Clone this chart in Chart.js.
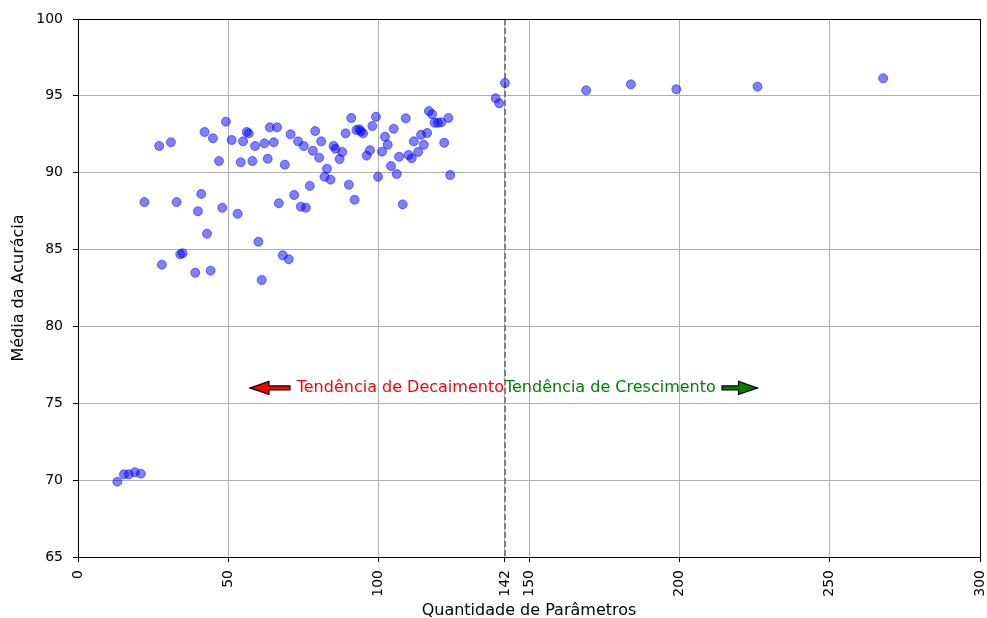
<!DOCTYPE html>
<html>
<head>
<meta charset="utf-8">
<script src="https://cdn.jsdelivr.net/npm/chart.js@4.4.1/dist/chart.umd.min.js"></script>
<style>
  body { margin: 0; background: #fff; }
  #wrap { width: 987px; height: 618px; }
</style>
</head>
<body>
<div id="wrap"><canvas id="paramChart" width="987" height="618"></canvas></div>
<script>
// Data: number of parameters vs mean accuracy
const paramCounts = [
  13.1, 15.3, 16.9, 18.9, 20.9,
  22.1, 27.9, 27.0, 30.9, 32.8, 34.0, 34.8, 39.0, 39.9, 41.0, 42.1, 42.9, 44.1, 44.9,
  46.9, 48.0, 49.2, 51.1, 53.1, 54.1, 54.9, 56.1, 56.8, 58.0, 58.9, 60.0, 61.1, 62.0,
  63.1, 63.8, 65.1, 66.2, 66.8, 68.1, 68.8, 70.1, 70.7, 71.9, 73.2, 74.1, 75.1, 75.8,
  77.1, 78.1, 78.9, 80.2, 80.9, 82.0, 82.8, 84.0, 85.0, 85.6, 87.0, 87.9, 89.0, 90.1,
  90.9, 92.0, 92.6, 93.6, 94.1, 94.8, 96.0, 97.1, 97.9, 99.1, 99.8, 101.1, 102.1, 103.0,
  104.1, 105.0, 106.0, 106.8, 108.0, 109.0, 109.9, 111.0, 111.7, 113.1, 114.1, 115.0,
  116.1, 116.7, 117.8, 118.6, 119.7, 120.8, 121.8, 123.2, 123.8,
  138.9, 140.1, 142.0, 169.0, 183.9, 199.0, 226.0, 267.8
];
const accuracies = [
  69.90, 70.38, 70.38, 70.51, 70.42,
  88.09, 84.02, 91.74, 91.98, 88.09, 84.69, 84.76, 83.49, 87.49, 88.62, 92.65, 86.03, 83.63, 92.24,
  90.76, 87.72, 93.32, 92.13, 87.33, 90.68, 92.04, 92.65, 92.56, 90.76, 91.74, 85.51, 83.02, 91.91,
  90.91, 92.95, 91.98, 92.95, 88.01, 84.63, 90.52, 84.37, 92.50, 88.55, 92.04, 87.79, 91.74, 87.72,
  89.14, 91.43, 92.71, 90.98, 92.04, 89.74, 90.26, 89.55, 91.74, 91.56, 90.89, 91.35, 92.56, 89.22,
  93.56, 88.24, 92.78, 92.82, 92.69, 92.56, 91.11, 91.46, 93.04, 93.64, 89.74, 91.37, 92.34, 91.82,
  90.44, 92.86, 89.92, 91.04, 87.94, 93.54, 91.15, 90.94, 92.04, 91.35, 92.47, 91.82,
  92.58, 94.01, 93.80, 93.25, 93.25, 93.28, 91.95, 93.56, 89.85,
  94.84, 94.52, 95.84, 95.36, 95.75, 95.43, 95.60, 96.14
];
const xTickValues = [0, 50, 100, 142, 150, 200, 250, 300];
const yTickValues = [65, 70, 75, 80, 85, 90, 95, 100];
const thresholdX = 142;

const points = paramCounts.map((v, i) => ({ x: v, y: accuracies[i] }));
const FONT = 'DejaVu Sans';

// draw a matplotlib-like fancy arrow from (x0) to tip (x1) at height yv
function drawArrow(ctx, chart, x0, x1, yv, fill) {
  const xs = chart.scales.x, ys = chart.scales.y;
  const tailX = xs.getPixelForValue(x0);
  const tipX = xs.getPixelForValue(x1);
  const py = ys.getPixelForValue(yv);
  const dir = tipX > tailX ? 1 : -1;
  const headLen = 19, headHalf = 6.5, tailHalf = 2;
  const baseX = tipX - dir * headLen;
  ctx.save();
  ctx.beginPath();
  ctx.moveTo(tailX, py - tailHalf);
  ctx.lineTo(baseX, py - tailHalf);
  ctx.lineTo(baseX, py - headHalf);
  ctx.lineTo(tipX, py);
  ctx.lineTo(baseX, py + headHalf);
  ctx.lineTo(baseX, py + tailHalf);
  ctx.lineTo(tailX, py + tailHalf);
  ctx.closePath();
  ctx.fillStyle = fill;
  ctx.fill();
  ctx.lineWidth = 1.2;
  ctx.strokeStyle = '#000';
  ctx.stroke();
  ctx.restore();
}

const overlay = {
  id: 'overlay',
  beforeDatasetsDraw(chart) {
    const { ctx, chartArea: a, scales: { x } } = chart;
    const px = Math.round(x.getPixelForValue(thresholdX));
    ctx.save();
    ctx.strokeStyle = '#808080';
    ctx.lineWidth = 2;
    ctx.setLineDash([6, 3]);
    ctx.beginPath();
    ctx.moveTo(px, a.top);
    ctx.lineTo(px, a.bottom);
    ctx.stroke();
    ctx.restore();
  },
  afterDraw(chart) {
    const { ctx, chartArea: a, scales: { x, y } } = chart;
    // frame (all four spines)
    const l = Math.floor(a.left) + 0.5, r = Math.floor(a.right) + 0.5;
    const t = Math.floor(a.top) + 0.5, b = Math.floor(a.bottom) + 0.5;
    ctx.save();
    ctx.strokeStyle = '#000';
    ctx.lineWidth = 1;
    ctx.strokeRect(l, t, r - l, b - t);
    ctx.restore();

    // trend annotations
    const ty = y.getPixelForValue(76);
    const tx = x.getPixelForValue(thresholdX);
    ctx.save();
    ctx.font = '16px "' + FONT + '"';
    ctx.textBaseline = 'middle';
    ctx.fillStyle = '#ff0000';
    ctx.textAlign = 'right';
    ctx.fillText('Tendência de Decaimento', tx - 1, ty);
    ctx.fillStyle = '#008000';
    ctx.textAlign = 'left';
    ctx.fillText('Tendência de Crescimento', tx, ty);
    ctx.restore();
    drawArrow(ctx, chart, 70.5, 57.2, 76, '#ff0000');
    drawArrow(ctx, chart, 214.2, 226.0, 76, '#008000');
  }
};

const chartConfig = {
  type: 'scatter',
  data: {
    datasets: [{
      label: 'Modelos',
      data: points,
      backgroundColor: 'rgba(0, 0, 255, 0.5)',
      borderColor: 'rgba(0, 0, 255, 0.5)',
      borderWidth: 1,
      pointRadius: 4.5,
      pointHoverRadius: 4.5
    }]
  },
  options: {
    responsive: false,
    animation: false,
    layout: { padding: { left: 0, right: 7, top: 19, bottom: 0 } },
    plugins: { legend: { display: false }, tooltip: { enabled: false } },
    scales: {
      x: {
        type: 'linear',
        min: 0,
        max: 300,
        afterBuildTicks: (s) => { s.ticks = xTickValues.map(v => ({ value: v })); },
        afterFit: (s) => { s.height = 61; s.paddingLeft = 0; s.paddingRight = 0; },
        ticks: {
          autoSkip: false,
          minRotation: 90,
          maxRotation: 90,
          padding: 8,
          color: '#000',
          font: { family: FONT, size: 14 },
          callback: (v) => String(v)
        },
        grid: { color: '#b0b0b0', lineWidth: 1, tickColor: '#000', tickLength: 5 },
        border: { display: false },
        title: {
          display: true,
          text: 'Quantidade de Parâmetros',
          color: '#000',
          font: { family: FONT, size: 16 },
          padding: { top: 0, bottom: -2 }
        }
      },
      y: {
        min: 65,
        max: 100,
        afterBuildTicks: (s) => { s.ticks = yTickValues.map(v => ({ value: v })); },
        afterFit: (s) => { s.width = 78; s.paddingTop = 0; s.paddingBottom = 0; },
        ticks: {
          padding: 10,
          color: '#000',
          font: { family: FONT, size: 14 }
        },
        grid: { color: '#b0b0b0', lineWidth: 1, tickColor: '#000', tickLength: 5 },
        border: { display: false },
        title: {
          display: true,
          text: 'Média da Acurácia',
          color: '#000',
          font: { family: FONT, size: 16 },
          padding: { top: 9, bottom: 0 }
        }
      }
    }
  },
  plugins: [overlay]
};

const ctx = document.getElementById('paramChart');
const paramChart = new Chart(ctx, chartConfig);
</script>
</body>
</html>
